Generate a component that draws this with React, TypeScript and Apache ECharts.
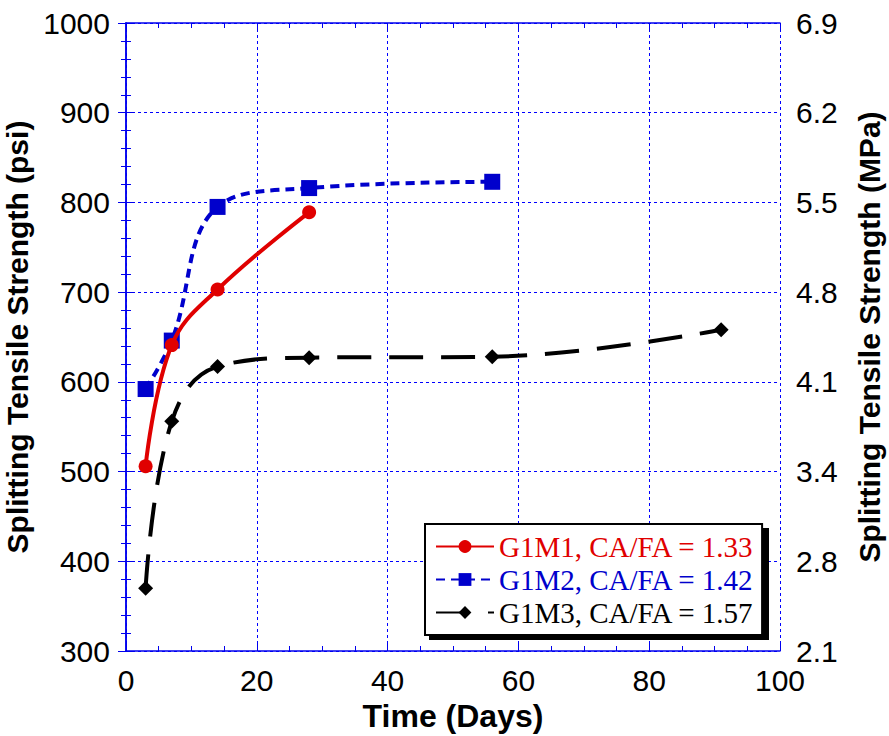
import React, { useEffect, useRef } from "react";
import * as echarts from "echarts";

const seriesNames = [
  "G1M1, CA/FA = 1.33",
  "G1M2, CA/FA = 1.42",
  "G1M3, CA/FA = 1.57",
];
const g1m1Days = [3, 7, 14, 28];
const g1m1Psi = [506, 641, 703, 789];
const g1m2Days = [3, 7, 14, 28, 56];
const g1m2Psi = [592, 646, 795, 816, 823];
const g1m3Days = [3, 7, 14, 28, 56, 91];
const g1m3Psi = [370, 556, 617, 627, 628, 658];
const PSI_TO_MPA = 0.006895;

const zip = (xs: number[], ys: number[]) => xs.map((x, i) => [x, ys[i]]);

const AXIS_BLUE = "#0000ee";
const FONT = "Liberation Sans, Arial, Helvetica, sans-serif";
const SERIF = "Liberation Serif, Times New Roman, serif";

export default function App() {
  const ref = useRef<HTMLDivElement>(null);
  useEffect(() => {
    if (!ref.current) return;
    const chart = echarts.init(ref.current, undefined, { renderer: "svg" });
    const tick = { show: true, inside: true, length: 8, lineStyle: { color: AXIS_BLUE, width: 1 } };
    const axisLine = { show: true, lineStyle: { color: AXIS_BLUE, width: 1.5 } };
    const split = { show: true, lineStyle: { color: "#0000ff", type: [3, 3] as any, width: 1 } };
    const label = { color: "#000", fontFamily: FONT, fontSize: 30 };
    const nameStyle = { color: "#000", fontFamily: FONT, fontSize: 30, fontWeight: "bold" as const };
    const colors = ["#e00000", "#0000cc", "#000000"];
    chart.setOption({
      animation: false,
      backgroundColor: "#fff",
      grid: { left: 126, top: 23, right: 109, bottom: 85, containLabel: false, outerBoundsMode: "none" },
      xAxis: [
        {
          type: "value", min: 0, max: 100, interval: 20, position: "bottom",
          name: "Time (Days)", nameLocation: "middle", nameGap: 48,
          nameTextStyle: { ...nameStyle, fontSize: 32 },
          axisLine, axisTick: tick, splitLine: split,
          minorTick: { show: true, splitNumber: 4, length: 5, lineStyle: { color: AXIS_BLUE } },
          axisLabel: { ...label, margin: 14, formatter: (v: number) => String(v) },
        },
        {
          type: "value", min: 0, max: 100, interval: 20, position: "top",
          axisLine, axisTick: tick, splitLine: { show: false },
          minorTick: { show: true, splitNumber: 4, length: 5, lineStyle: { color: AXIS_BLUE } },
          axisLabel: { show: false },
        },
      ],
      yAxis: [
        {
          type: "value", min: 300, max: 1000, interval: 100, position: "left",
          name: "Splitting Tensile Strength (psi)", nameLocation: "middle", nameGap: 80,
          nameTextStyle: nameStyle,
          axisLine, axisTick: tick, splitLine: split,
          minorTick: { show: true, splitNumber: 5, length: 5, lineStyle: { color: AXIS_BLUE } },
          axisLabel: { ...label, margin: 16, formatter: (v: number) => String(v) },
        },
        {
          type: "value", min: 300, max: 1000, interval: 100, position: "right",
          name: "Splitting Tensile Strength (MPa)", nameLocation: "middle", nameGap: 74,
          nameRotate: 90,
          nameTextStyle: nameStyle,
          axisLine, axisTick: tick, splitLine: { show: false },
          minorTick: { show: true, splitNumber: 5, length: 5, lineStyle: { color: AXIS_BLUE } },
          axisLabel: { ...label, margin: 16, formatter: (v: number) => (v * PSI_TO_MPA).toFixed(1) },
        },
      ],
      legend: {
        show: true,
        left: 425, top: 524,
        orient: "vertical",
        z: 10,
        backgroundColor: "#fff",
        borderColor: "#000",
        borderWidth: 2,
        borderRadius: 0,
        padding: [8, 8, 8, 10],
        itemWidth: 58, itemHeight: 16, itemGap: 4,
        textStyle: { fontFamily: SERIF, fontSize: 29 },
        data: seriesNames.map((n, i) => ({ name: n, textStyle: { color: colors[i] } })),
      },
      graphic: [
        { type: "rect", left: 429, top: 528, z: 5, shape: { width: 340, height: 112 }, style: { fill: "#000" } },
      ],
      series: [
        {
          name: seriesNames[0], type: "line", data: zip(g1m1Days, g1m1Psi),
          smooth: 0.4,
          symbol: "circle", symbolSize: 14,
          itemStyle: { color: colors[0] },
          lineStyle: { color: colors[0], width: 4 },
          z: 4,
        },
        {
          name: seriesNames[1], type: "line", data: zip(g1m2Days, g1m2Psi),
          smooth: 0.4,
          symbol: "rect", symbolSize: 16,
          itemStyle: { color: colors[1] },
          lineStyle: { color: colors[1], width: 4, type: [9, 6] },
          z: 3,
        },
        {
          name: seriesNames[2], type: "line", data: zip(g1m3Days, g1m3Psi),
          smooth: 0.4,
          symbol: "diamond", symbolSize: 15,
          itemStyle: { color: colors[2] },
          lineStyle: { color: colors[2], width: 4, type: [34, 18] },
          z: 2,
        },
      ],
    });
    return () => chart.dispose();
  }, []);
  return <div ref={ref} style={{ width: 889, height: 736, position: "absolute", left: 0, top: 0 }} />;
}
